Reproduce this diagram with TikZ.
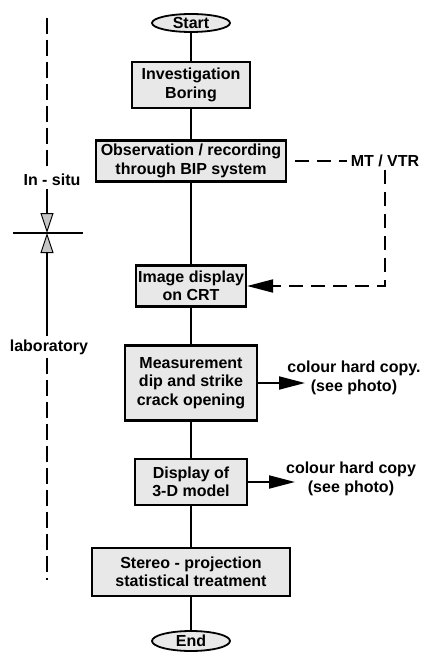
\documentclass[tikz,border=0pt]{standalone}
\usepackage{fontspec}
\setmainfont{Liberation Sans}
\usetikzlibrary{shapes.geometric,arrows.meta}
\begin{document}
\begin{tikzpicture}[x=1pt,y=-1pt,
  every node/.style={font=\bfseries\fontsize{16}{18.5}\selectfont},
  box/.style={draw, line width=2.2pt, fill=gray!18, align=center, inner sep=0pt},
  oval/.style={ellipse, draw, line width=1.8pt, fill=gray!18, inner sep=0pt},
  flow/.style={line width=1.9pt},
  dsh/.style={line width=1.9pt, dash pattern=on 14pt off 8pt},
  ldsh/.style={line width=1.6pt, dash pattern=on 16pt off 6pt},
  lbl/.style={align=center},
  bigtip/.style={-{Triangle[length=26pt,width=13pt]}},
  graytip/.style={-{Triangle[length=20pt,width=13pt,fill=gray!45,line width=1pt]}}
]
\useasboundingbox (0,0) rectangle (421,655);

% main flow
\node[oval, minimum width=78pt, minimum height=18pt] (start) at (191,23) {Start};
\node[box, minimum width=118pt, minimum height=46pt] (inv) at (191,85) {Investigation\\Boring};
\node[box, minimum width=190pt, minimum height=41pt] (obs) at (191,161) {Observation / recording\\through BIP system};
\node[box, minimum width=110pt, minimum height=41pt] (img) at (191,286) {Image display\\on CRT};
\node[box, minimum width=132pt, minimum height=75pt] (meas) at (191,383) {Measurement\\dip and strike\\crack opening};
\node[box, minimum width=112pt, minimum height=46pt] (disp) at (191,482) {Display of\\3-D model};
\node[box, minimum width=198pt, minimum height=48pt] (ster) at (191,572) {Stereo - projection\\statistical treatment};
\node[oval, minimum width=78pt, minimum height=20pt] (end) at (191,641) {End};

\draw[flow] (start) -- (inv) -- (obs) -- (img) -- (meas) -- (disp) -- (ster) -- (end);

% MT / VTR branch
\node (mt) at (385,161) {MT / VTR};
\coordinate (corner) at (385,286);
\draw[dsh, dash phase=14pt] (obs.east) -- (mt.west);
\draw[dsh, bigtip] (mt.south) -- (corner) -- (img.east);

% hard copies
\node[lbl] (hc1) at (354,378) {colour hard copy.\\(see photo)};
\coordinate (hc1tip) at (305,383);
\draw[flow, bigtip] (meas.east) -- (hc1tip);
\node[lbl] (hc2) at (351,479) {colour hard copy\\(see photo)};
\coordinate (hc2tip) at (295,482);
\draw[flow, bigtip] (disp.east) -- (hc2tip);

% left side scale
\node (insitu) at (52,180) {In - situ};
\node (lab) at (49,347) {laboratory};
\coordinate (ltop) at (47,18);
\coordinate (lbot) at (47,580);
\coordinate (hl) at (13,233);
\coordinate (hr) at (83,233);
\coordinate (mid) at (47,233);
\draw[flow] (hl) -- (hr);
\draw[ldsh] (ltop) -- (ltop |- insitu.north);
\draw[flow, graytip] (ltop |- insitu.south) -- (mid);
\draw[flow, graytip] (ltop |- lab.north) -- (mid);
\draw[ldsh] (ltop |- lab.south) -- (lbot);
\end{tikzpicture}
\end{document}
